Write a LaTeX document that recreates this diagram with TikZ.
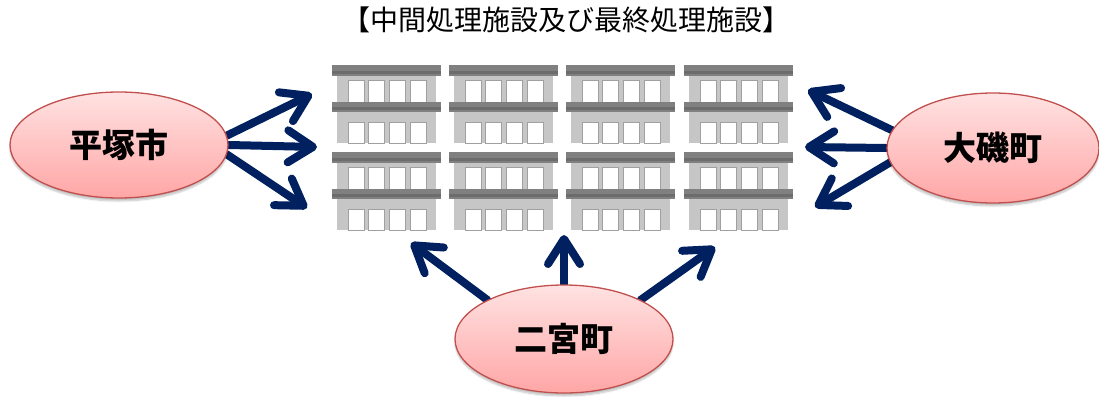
\documentclass[tikz,border=0pt]{standalone}
\usepackage{fontspec}
\newfontfamily\cjk{Noto Sans CJK JP}
\usetikzlibrary{shapes.geometric,arrows.meta,backgrounds,shadows.blur}
\definecolor{navy}{RGB}{0,32,96}
\definecolor{bargray}{RGB}{128,128,128}
\definecolor{bardark}{RGB}{108,108,108}
\definecolor{bodygray}{RGB}{198,198,198}
\definecolor{winedge}{RGB}{160,160,160}
\definecolor{pinktop}{RGB}{255,226,226}
\definecolor{pinkbot}{RGB}{255,166,166}
\definecolor{rimred}{RGB}{192,80,77}
\tikzset{
  town/.style={ellipse, draw=rimred, line width=1.3pt, top color=pinktop, bottom color=pinkbot,
    minimum width=218pt, minimum height=106pt, inner sep=0pt,
    blur shadow={shadow xshift=0pt, shadow yshift=-3pt, shadow opacity=25, shadow blur steps=6},
    font=\cjk\bfseries\fontsize{33}{33}\selectfont},
  flow/.style={draw=navy, line width=8pt, line cap=round,
    -{Straight Barb[length=25pt, width=32pt, round]}},
  win/.style={fill=white, draw=winedge, line width=0.8pt},
  bldg/.pic={
    \fill[bodygray] (5,11) rectangle (104,78);
    \foreach \wx in {16,36,57,78}{
      \filldraw[win] (\wx,15) rectangle ++(16,22);
      \filldraw[win] (\wx,57) rectangle ++(16,21);
    }
    \fill[bargray] (0,0) rectangle (109,11);
    \fill[bardark] (0,6) rectangle (109,9);
    \fill[bargray] (0,37) rectangle (109,47);
    \fill[bardark] (0,42) rectangle (109,45);
  }
}
\begin{document}
\begin{tikzpicture}[x=1pt, y=-1pt]
  \useasboundingbox (0,0) rectangle (1099,396);

  % title
  \node[font=\cjk\fontsize{28}{28}\selectfont] (title) at (566,20) {【中間処理施設及び最終処理施設】};

  % facilities, two rows of four
  \foreach \bx in {332,449,566,684}{
    \foreach \by in {65,152}{
      \pic at (\bx,\by) {bldg};
    }
  }

  % municipalities
  \node[town] (hira) at (119,145) {平塚市};
  \node[town, minimum width=212pt, minimum height=110pt] (oiso) at (993,148) {大磯町};
  \node[town, minimum height=108pt] (nino) at (564,339) {二宮町};

  % arrow heads
  \coordinate (h1) at (312,94);
  \coordinate (h2) at (317,147);
  \coordinate (h3) at (307,208);
  \coordinate (o1) at (808,90);
  \coordinate (o2) at (805,147);
  \coordinate (o3) at (815,207);
  \coordinate (n1) at (411,243);
  \coordinate (n2) at (564,235);
  \coordinate (n3) at (715,247);

  \begin{pgfonlayer}{background}
    \draw[flow] (hira.5) -- (h1);
    \draw[flow] (hira.0) -- (h2);
    \draw[flow] (hira.-5) -- (h3);
    \draw[flow] (oiso.170) -- (o1);
    \draw[flow] (oiso.180) -- (o2);
    \draw[flow] (oiso.-172) -- (o3);
    \draw[flow] (nino.153) -- (n1);
    \draw[flow] (nino.north) -- (n2);
    \draw[flow] (nino.27) -- (n3);
  \end{pgfonlayer}
\end{tikzpicture}
\end{document}
